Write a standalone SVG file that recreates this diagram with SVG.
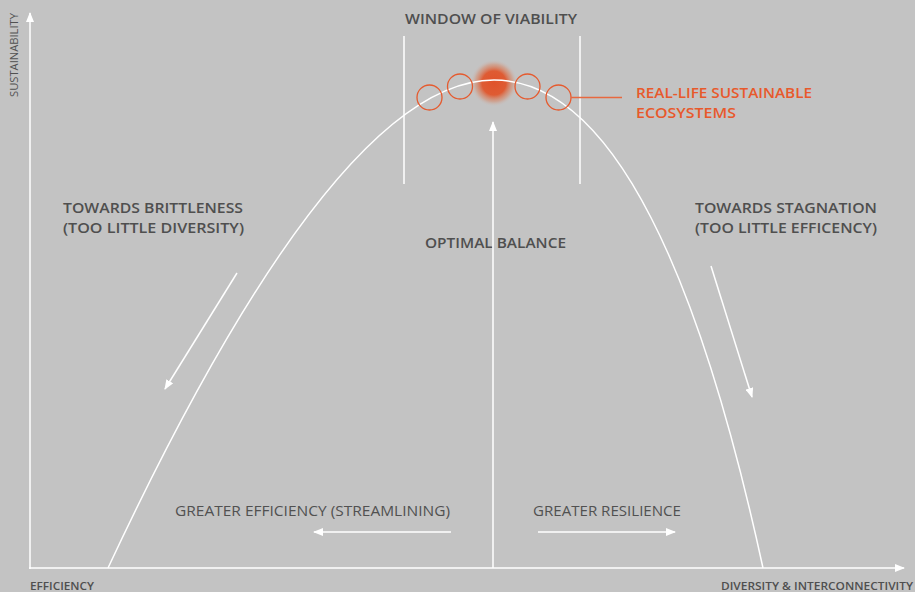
<svg xmlns="http://www.w3.org/2000/svg" width="915" height="592" viewBox="0 0 915 592">
<style>
.lbl{font-family:"Open Sans","Liberation Sans",sans-serif;font-weight:600;fill:#4f4f4f}
.reg{font-family:"Open Sans","Liberation Sans",sans-serif;font-weight:400;fill:#515151}
.org{font-family:"Open Sans","Liberation Sans",sans-serif;font-weight:600;fill:#e8592b}
.ln{stroke:#ffffff;stroke-width:1.5;fill:none}
.circ{stroke:#e55a2e;stroke-width:1.3;fill:none}
</style>
<defs>
<marker id="ah" viewBox="0 0 10 8" refX="9" refY="4" markerWidth="10" markerHeight="8" markerUnits="userSpaceOnUse" orient="auto">
<path d="M0,0 L10,4 L0,8 Z" fill="#ffffff"/>
</marker>
<radialGradient id="blob" cx="0.5" cy="0.5" r="0.5">
<stop offset="0" stop-color="#e0522a" stop-opacity="1"/>
<stop offset="0.5" stop-color="#e0562c" stop-opacity="0.95"/>
<stop offset="0.78" stop-color="#d9825f" stop-opacity="0.45"/>
<stop offset="1" stop-color="#c8c8cc" stop-opacity="0"/>
</radialGradient>
</defs>
<rect width="915" height="592" fill="#c3c3c3"/>

<g id="axes">
<line class="ln" x1="30" y1="569" x2="30" y2="13" marker-end="url(#ah)"/>
<line class="ln" x1="29" y1="568" x2="904" y2="568" marker-end="url(#ah)"/>
<text class="reg" x="0" y="0" font-size="10" fill="#5a5a5a" transform="translate(18,97) rotate(-90)" textLength="84" lengthAdjust="spacingAndGlyphs">SUSTAINABILITY</text>
<text class="lbl" x="30" y="590" font-size="10.5" textLength="64" lengthAdjust="spacingAndGlyphs">EFFICIENCY</text>
<text class="lbl" x="721" y="590" font-size="10.5" textLength="192" lengthAdjust="spacingAndGlyphs">DIVERSITY &amp; INTERCONNECTIVITY</text>
</g>

<g id="window">
<line class="ln" x1="404" y1="36" x2="404" y2="184"/>
<line class="ln" x1="580" y1="36" x2="580" y2="184"/>
<text class="lbl" x="405" y="24" font-size="14.5" textLength="172" lengthAdjust="spacingAndGlyphs">WINDOW OF VIABILITY</text>
</g>

<g id="blob-node">
<circle cx="494" cy="83" r="24" fill="url(#blob)"/>
</g>

<g id="curve">
<path class="ln" d="M108,568 Q336,80 494,80 Q657,80 763,568"/>
</g>

<g id="ecosystems">
<circle class="circ" cx="429.5" cy="97.5" r="12.5"/>
<circle class="circ" cx="460" cy="86.5" r="12.5"/>
<circle class="circ" cx="527.5" cy="86.5" r="12.5"/>
<circle class="circ" cx="558.5" cy="97.5" r="12.5"/>
<line x1="571" y1="97.5" x2="622" y2="97.5" stroke="#e8683f" stroke-width="1.3"/>
<text class="org" x="636" y="98" font-size="14.5" textLength="176" lengthAdjust="spacingAndGlyphs">REAL-LIFE SUSTAINABLE</text>
<text class="org" x="636" y="118" font-size="14.5" textLength="100" lengthAdjust="spacingAndGlyphs">ECOSYSTEMS</text>
</g>

<g id="brittleness">
<text class="lbl" x="63" y="213" font-size="14" textLength="180" lengthAdjust="spacingAndGlyphs">TOWARDS BRITTLENESS</text>
<text class="lbl" x="63" y="233" font-size="14" textLength="181" lengthAdjust="spacingAndGlyphs">(TOO LITTLE DIVERSITY)</text>
</g>

<g id="stagnation">
<text class="lbl" x="695" y="213" font-size="14" textLength="182" lengthAdjust="spacingAndGlyphs">TOWARDS STAGNATION</text>
<text class="lbl" x="695" y="233" font-size="14" textLength="182" lengthAdjust="spacingAndGlyphs">(TOO LITTLE EFFICENCY)</text>
</g>

<g id="optimal">
<text class="lbl" x="425" y="248" font-size="14" textLength="141" lengthAdjust="spacingAndGlyphs">OPTIMAL BALANCE</text>
</g>

<g id="efficiency">
<text class="reg" x="175" y="516" font-size="14.5" textLength="275" lengthAdjust="spacingAndGlyphs">GREATER EFFICIENCY (STREAMLINING)</text>
</g>

<g id="resilience">
<text class="reg" x="533" y="516" font-size="14.5" textLength="148" lengthAdjust="spacingAndGlyphs">GREATER RESILIENCE</text>
</g>

<g id="connectors">
<line class="ln" x1="493" y1="568" x2="493" y2="122" marker-end="url(#ah)"/>
<line class="ln" x1="237" y1="273" x2="165" y2="389" marker-end="url(#ah)"/>
<line class="ln" x1="711" y1="266" x2="752" y2="397" marker-end="url(#ah)"/>
<line class="ln" x1="451" y1="532" x2="314" y2="532" marker-end="url(#ah)"/>
<line class="ln" x1="538" y1="532" x2="675" y2="532" marker-end="url(#ah)"/>
</g>
</svg>
